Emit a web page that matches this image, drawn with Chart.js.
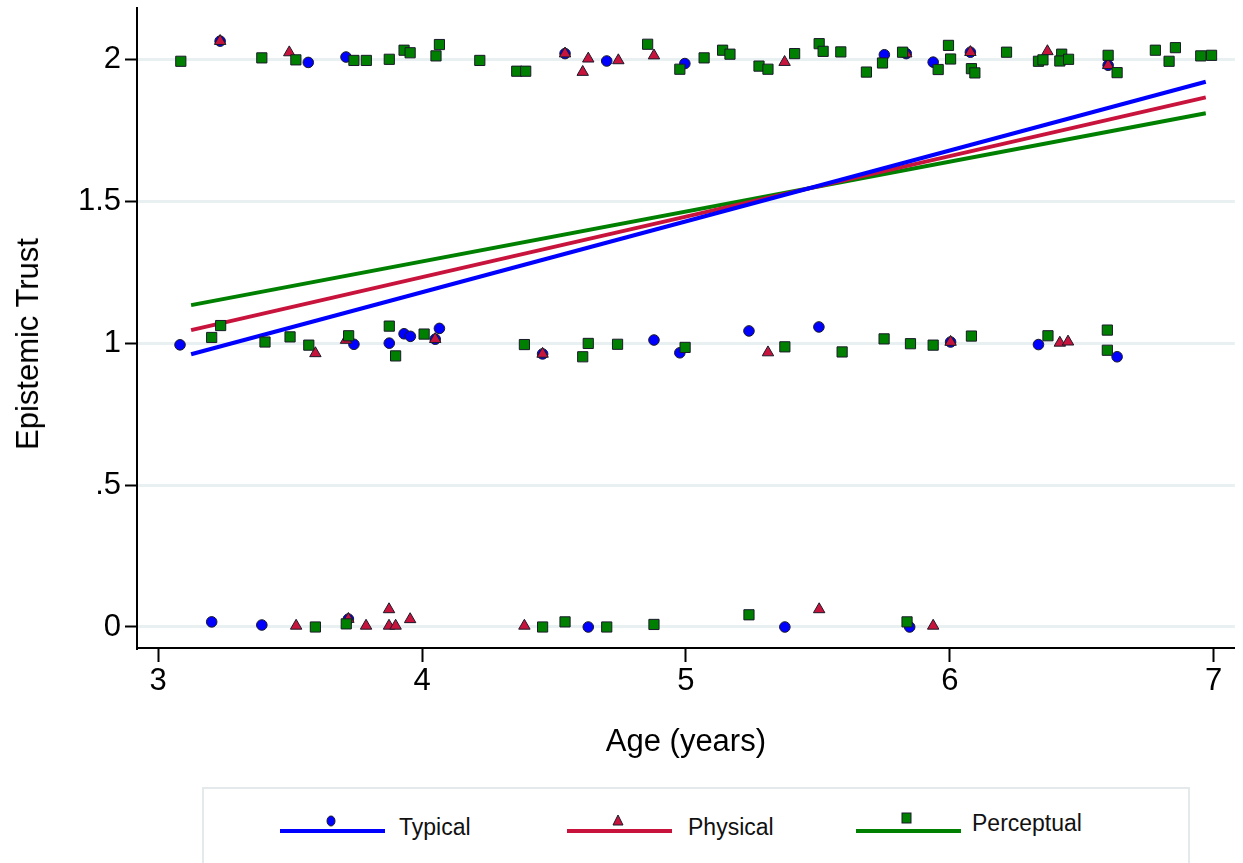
<!DOCTYPE html>
<html>
<head>
<meta charset="utf-8">
<script src="https://cdn.jsdelivr.net/npm/chart.js@4"></script>
<style>
  body { margin: 0; background: #fff; }
  #wrap { position: relative; width: 1243px; height: 863px; overflow: hidden; background: #fff; }
  #chart { position: absolute; left: 0; top: 0; }
  #ytitle {
    position: absolute; left: 28px; top: 344px;
    transform: translate(-50%, -50%) rotate(-90deg);
    font: 31px 'Liberation Sans', Arial, sans-serif; color: #000; white-space: nowrap;
  }
  #legend {
    position: absolute; left: 202px; top: 787px; width: 984px; height: 90px;
    border: 2px solid #e4e9ec; background: #fff;
  }
  .lab { position: absolute; font: 23px 'Liberation Sans', Arial, sans-serif; color: #111; white-space: nowrap;
         transform: translateY(-50%); }
</style>
</head>
<body>
<div id="wrap">
  <canvas id="chart" width="1243" height="863"></canvas>
  <div id="ytitle">Epistemic Trust</div>
  <div id="legend"></div>
</div>
<script>
// jittered scatter values (age, trust)
const typicalAge = [3.235, 3.569, 3.712, 4.542, 4.700, 4.996, 5.752, 5.835, 5.937, 6.078, 6.600,
  3.083, 3.742, 3.876, 3.932, 3.956, 4.050, 4.066, 4.457, 4.879, 4.977, 5.239, 5.504, 6.003, 6.336, 6.634,
  3.203, 3.393, 3.721, 4.630, 5.375, 5.848];
const typicalTrust = [2.064, 1.989, 2.008, 2.020, 1.994, 1.985, 2.016, 2.020, 1.990, 2.025, 1.979,
  0.994, 0.996, 1.000, 1.033, 1.024, 1.014, 1.052, 0.962, 1.011, 0.966, 1.043, 1.057, 1.004, 0.995, 0.952,
  0.018, 0.007, 0.028, 0.000, 0.000, 0.000];

const physicalAge = [3.235, 3.497, 4.542, 4.630, 4.609, 4.744, 4.879, 5.374, 5.835, 6.078, 6.370, 6.600,
  3.596, 3.712, 4.050, 4.457, 5.311, 6.003, 6.417, 6.448,
  3.523, 3.721, 3.788, 3.875, 3.875, 3.900, 3.955, 4.388, 5.505, 5.937];
const physicalTrust = [2.064, 2.024, 2.020, 2.002, 1.955, 1.996, 2.013, 1.990, 2.020, 2.025, 2.028, 1.979,
  0.964, 1.011, 1.014, 0.962, 0.967, 1.004, 1.001, 1.005,
  0.004, 0.028, 0.004, 0.062, 0.004, 0.004, 0.027, 0.004, 0.062, 0.004];

const perceptualAge = [3.086, 3.393, 3.522, 3.742, 3.789, 3.876, 3.932, 3.955, 4.053, 4.066, 4.219, 4.359, 4.393,
  4.855, 4.977, 5.069, 5.139, 5.167, 5.277, 5.311, 5.412, 5.505, 5.520, 5.587, 5.684, 5.745, 5.821, 5.956,
  5.995, 6.003, 6.082, 6.095, 6.215, 6.336, 6.353, 6.424, 6.417, 6.450, 6.600, 6.634, 6.779, 6.831, 6.855, 6.951, 6.992,
  3.203, 3.237, 3.405, 3.500, 3.571, 3.722, 3.876, 3.900, 4.008, 4.388, 4.630, 4.609, 4.741, 4.997, 5.375,
  5.592, 5.751, 5.851, 5.937, 6.082, 6.372, 6.597, 6.597,
  3.596, 3.713, 4.457, 4.542, 4.700, 4.879, 5.239, 5.838];
const perceptualTrust = [1.993, 2.005, 1.998, 1.996, 1.996, 2.000, 2.032, 2.023, 2.012, 2.052, 1.996, 1.958, 1.958,
  2.053, 1.965, 2.005, 2.032, 2.018, 1.976, 1.965, 2.020, 2.055, 2.028, 2.026, 1.955, 1.987, 2.025, 1.964,
  2.049, 2.001, 1.967, 1.952, 2.025, 1.993, 1.998, 2.018, 1.994, 2.000, 2.014, 1.953, 2.032, 1.993, 2.041, 2.012, 2.014,
  1.020, 1.062, 1.004, 1.022, 0.993, 1.026, 1.060, 0.955, 1.032, 0.995, 0.999, 0.952, 0.996, 0.985, 0.987,
  0.969, 1.015, 0.998, 0.993, 1.025, 1.026, 1.046, 0.975,
  0.000, 0.011, 0.000, 0.018, 0.000, 0.009, 0.043, 0.018];

// linear fit lines: endpoints
const fitAge = [3.125, 6.97];
const fitTypical = [0.961, 1.921];
const fitPhysical = [1.046, 1.866];
const fitPerceptual = [1.134, 1.810];

const xTicks = [3, 4, 5, 6, 7];
const xTickLabels = ['3', '4', '5', '6', '7'];
const yTicks = [0, 0.5, 1, 1.5, 2];
const yTickLabels = ['0', '.5', '1', '1.5', '2'];

const seriesNames = ['Typical', 'Physical', 'Perceptual'];
const BLUE = '#0000ff', RED = '#c8143c', GREEN = '#008000';

function pts(xs, ys) {
  return xs.map((x, i) => ({ x: x, y: ys[i] }));
}

Chart.defaults.font.family = "'Liberation Sans', Arial, sans-serif";
Chart.defaults.color = '#000';

const scatterStyle = (col, shape, r) => ({
  type: 'scatter', showLine: false,
  pointStyle: shape, pointRadius: r,
  backgroundColor: col, borderColor: '#1a1a2a', borderWidth: 1
});
const lineStyle = (col) => ({
  type: 'line', showLine: true, pointRadius: 0, borderColor: col, borderWidth: 4,
  fill: false, order: 4
});

new Chart(document.getElementById('chart'), {
  data: {
    datasets: [
      Object.assign({ label: seriesNames[0], data: pts(fitAge, fitTypical) }, lineStyle(BLUE)),
      Object.assign({ label: seriesNames[1], data: pts(fitAge, fitPhysical) }, lineStyle(RED)),
      Object.assign({ label: seriesNames[2], data: pts(fitAge, fitPerceptual) }, lineStyle(GREEN)),
      Object.assign({ label: seriesNames[0], data: pts(typicalAge, typicalTrust), order: 3 }, scatterStyle(BLUE, 'circle', 5.3)),
      Object.assign({ label: seriesNames[1], data: pts(physicalAge, physicalTrust), order: 2 }, scatterStyle(RED, 'triangle', 6.6)),
      Object.assign({ label: seriesNames[2], data: pts(perceptualAge, perceptualTrust), order: 1 }, scatterStyle(GREEN, 'rect', 7.2))
    ]
  },
  options: {
    responsive: false,
    animation: false,
    layout: { padding: { left: 0, top: 8, right: 8, bottom: 0 } },
    plugins: { legend: { display: false }, tooltip: { enabled: false } },
    scales: {
      x: {
        type: 'linear', min: 2.92, max: 7.08,
        afterBuildTicks: (s) => { s.ticks = xTicks.map(v => ({ value: v })); },
        afterFit: (s) => { s.height = 215; s.paddingLeft = 0; s.paddingRight = 0; },
        grid: { display: true, drawOnChartArea: false, tickColor: '#000', tickLength: 14, tickWidth: 2 },
        border: { color: '#000', width: 2 },
        ticks: { font: { size: 31 }, color: '#000', padding: 1, maxRotation: 0,
                 callback: (v) => xTickLabels[xTicks.indexOf(v)] },
        title: { display: true, text: 'Age (years)', font: { size: 31 }, color: '#000',
                 padding: { top: 0, bottom: 102 } }
      },
      y: {
        type: 'linear', min: -0.074, max: 2.18,
        afterBuildTicks: (s) => { s.ticks = yTicks.map(v => ({ value: v })); },
        afterFit: (s) => { s.width = 137; s.paddingTop = 0; s.paddingBottom = 0; },
        grid: { color: '#e9f0f1', lineWidth: 3, tickColor: '#000', tickLength: 12, tickWidth: 2 },
        border: { color: '#000', width: 2 },
        ticks: { font: { size: 31 }, color: '#000', padding: 4,
                 callback: (v) => yTickLabels[yTicks.indexOf(v)] }
      }
    }
  }
});

// legend: line with marker above it, then label
const legendColors = [BLUE, RED, GREEN];
const legendShapes = ['circle', 'triangle', 'rect'];
const legendLineX = [76, 363, 652];   // relative to legend box
const legendTextX = [195, 484, 768];
const legendTextY = [38, 38, 34];
const legend = document.getElementById('legend');
const NS = 'http://www.w3.org/2000/svg';
const svg = document.createElementNS(NS, 'svg');
svg.setAttribute('width', '984'); svg.setAttribute('height', '90');
svg.style.position = 'absolute'; svg.style.left = '0'; svg.style.top = '0';
legend.appendChild(svg);
seriesNames.forEach((name, i) => {
  const x0 = legendLineX[i], col = legendColors[i];
  const ln = document.createElementNS(NS, 'line');
  ln.setAttribute('x1', x0); ln.setAttribute('x2', x0 + 105);
  ln.setAttribute('y1', 42); ln.setAttribute('y2', 42);
  ln.setAttribute('stroke', col); ln.setAttribute('stroke-width', 4);
  svg.appendChild(ln);
  const cx = x0 + 51, cy = 32;
  let m;
  if (legendShapes[i] === 'circle') {
    m = document.createElementNS(NS, 'ellipse');
    m.setAttribute('cx', cx); m.setAttribute('cy', cy); m.setAttribute('rx', 4); m.setAttribute('ry', 5);
  } else if (legendShapes[i] === 'triangle') {
    m = document.createElementNS(NS, 'polygon');
    m.setAttribute('points', `${cx},${cy - 6} ${cx + 5},${cy + 4} ${cx - 5},${cy + 4}`);
  } else {
    m = document.createElementNS(NS, 'rect');
    m.setAttribute('x', cx - 5); m.setAttribute('y', cy - 8); m.setAttribute('width', 9); m.setAttribute('height', 10);
  }
  m.setAttribute('fill', col); m.setAttribute('stroke', '#1a1a2a'); m.setAttribute('stroke-width', 1);
  svg.appendChild(m);
  const t = document.createElement('div');
  t.className = 'lab'; t.textContent = name;
  t.style.left = legendTextX[i] + 'px'; t.style.top = legendTextY[i] + 'px';
  legend.appendChild(t);
});
</script>
</body>
</html>
